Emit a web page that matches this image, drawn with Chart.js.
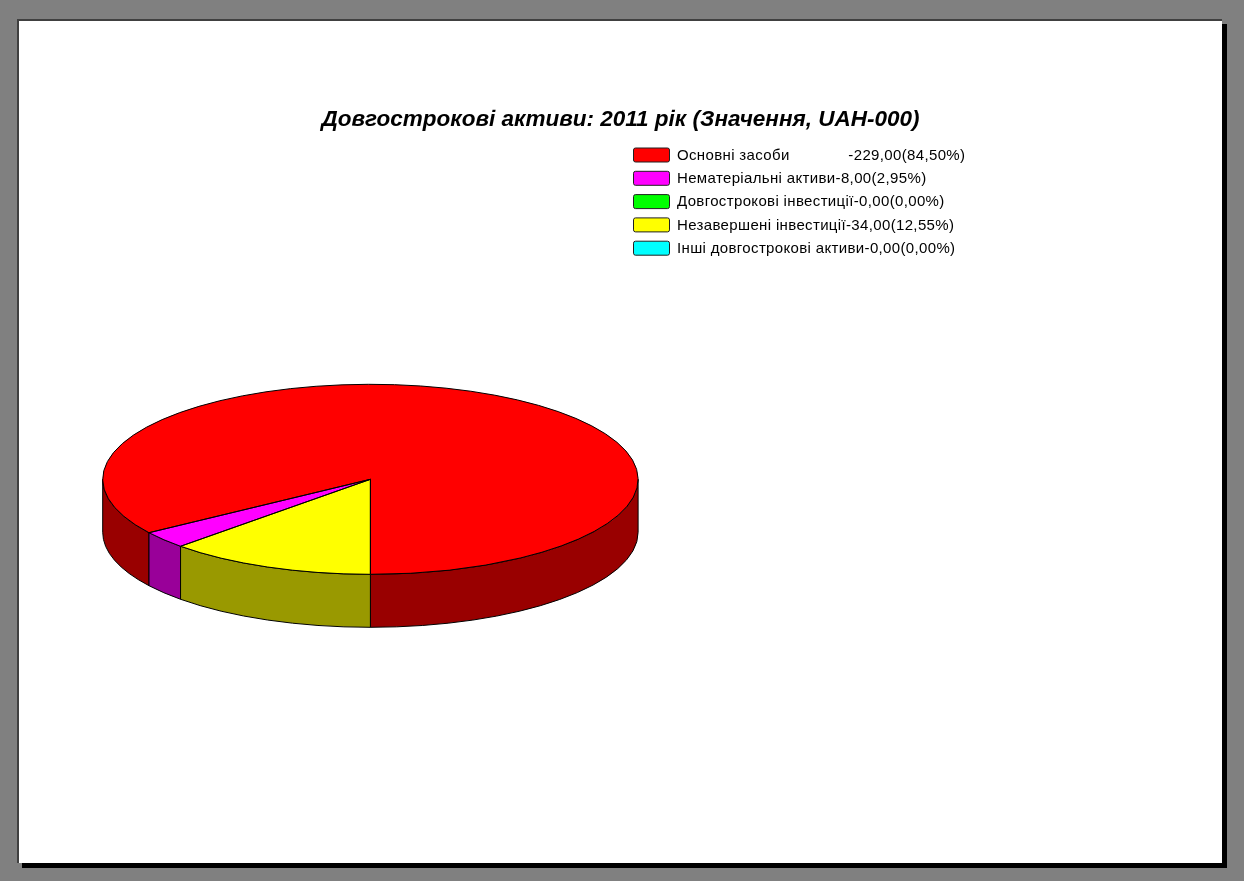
<!DOCTYPE html>
<html>
<head>
<meta charset="utf-8">
<title>Довгострокові активи: 2011 рік</title>
<script src="https://cdn.jsdelivr.net/npm/chart.js@4.4.0/dist/chart.umd.min.js"></script>
<style>
  html, body { margin: 0; padding: 0; width: 1244px; height: 881px; overflow: hidden; background: #808080; }
  #page { position: absolute; left: 17px; top: 19px; width: 1203px; height: 842px; background: #fff;
          border-left: 2px solid #404040; border-top: 2px solid #404040; box-shadow: 5px 5px 0 #000; }
  #chart { position: absolute; left: 0; top: 0; }
</style>
</head>
<body>
<div id="page"></div>
<canvas id="chart" width="1244" height="881"></canvas>
<script>
// Long-term assets, 2011 (UAH thousands)
const categories = [
  'Основні засоби             ',
  'Нематеріальні активи',
  'Довгострокові інвестиції',
  'Незавершені інвестиції',
  'Інші довгострокові активи'
];
const values = [229, 8, 0, 34, 0];
const topColors  = ['#FF0000', '#FF00FF', '#00FF00', '#FFFF00', '#00FFFF'];
const sideColors = ['#990000', '#990099', '#009900', '#999900', '#009999'];
const chartTitle = 'Довгострокові активи: 2011 рік (Значення, UAH-000)';

// Pie geometry on screen: centre, horizontal radius, tilt and thickness
const CX = 370.4, CY = 479.3, RX = 267.7, RY = 95, DEPTH = 53;
const TILT = RY / RX;

const total = values.reduce((a, b) => a + b, 0);
const fmt = v => v.toFixed(2).replace('.', ',');
const legendLabels = categories.map((c, i) =>
  c + '-' + fmt(values[i]) + '(' + fmt(values[i] / total * 100) + '%)');

function arcGeom(arc) {
  const p = arc.getProps(['x', 'y', 'startAngle', 'endAngle', 'outerRadius'], true);
  // the drawing is mirrored horizontally, so slice angles run counter-clockwise on screen
  return { x: p.x, y: p.y, r: p.outerRadius, ry: p.outerRadius * TILT,
           a: Math.PI - p.endAngle, b: Math.PI - p.startAngle };
}

const pie3d = {
  id: 'pie3d',
  beforeDatasetsDraw(chart) {
    const ctx = chart.ctx;
    const meta = chart.getDatasetMeta(0);
    // side walls: only the front half (0..PI) of the rim is visible
    ctx.save();
    ctx.lineWidth = 1;
    ctx.strokeStyle = '#000';
    meta.data.forEach((arc, i) => {
      if (!values[i]) return;
      const g = arcGeom(arc);
      for (let s = -3; s <= 3; s++) {
        const off = 2 * Math.PI * s;
        const lo = Math.max(g.a, off), hi = Math.min(g.b, off + Math.PI);
        if (hi - lo <= 1e-6) continue;
        const l = lo - off, h = hi - off;
        ctx.beginPath();
        ctx.ellipse(g.x, g.y, g.r, g.ry, 0, l, h, false);
        ctx.lineTo(g.x + g.r * Math.cos(h), g.y + DEPTH + g.ry * Math.sin(h));
        ctx.ellipse(g.x, g.y + DEPTH, g.r, g.ry, 0, h, l, true);
        ctx.closePath();
        ctx.fillStyle = sideColors[i];
        ctx.fill();
        ctx.stroke();
      }
    });
    ctx.restore();
    // top face: squash and mirror the library's own pie
    const c = meta.data[0];
    ctx.save();
    ctx.translate(c.x, c.y);
    ctx.scale(-1, TILT);
    ctx.translate(-c.x, -c.y);
  },
  afterDatasetsDraw(chart) {
    const ctx = chart.ctx;
    ctx.restore();
    const meta = chart.getDatasetMeta(0);
    ctx.save();
    ctx.lineWidth = 1;
    ctx.strokeStyle = '#000';
    meta.data.forEach((arc, i) => {
      if (!values[i]) return;
      const g = arcGeom(arc);
      ctx.beginPath();
      ctx.moveTo(g.x, g.y);
      ctx.lineTo(g.x + g.r * Math.cos(g.a), g.y + g.ry * Math.sin(g.a));
      ctx.ellipse(g.x, g.y, g.r, g.ry, 0, g.a, g.b, false);
      ctx.closePath();
      ctx.stroke();
    });
    ctx.restore();
  },
  afterDraw(chart) {
    const ctx = chart.ctx;
    ctx.save();
    ctx.fillStyle = '#000';
    ctx.font = 'italic bold 22.5px "Liberation Sans", Arial, sans-serif';
    ctx.textAlign = 'center';
    ctx.textBaseline = 'alphabetic';
    ctx.fillText(chartTitle, 620.5, 125.5);

    ctx.font = '15px "Liberation Sans", Arial, sans-serif';
    ctx.letterSpacing = '0.35px';
    ctx.textAlign = 'left';
    ctx.textBaseline = 'middle';
    legendLabels.forEach((t, i) => {
      const y = 155 + i * 23.3;
      ctx.beginPath();
      ctx.roundRect(633.5, y - 7, 36, 14, 2);
      ctx.fillStyle = topColors[i];
      ctx.fill();
      ctx.lineWidth = 1;
      ctx.strokeStyle = '#202020';
      ctx.stroke();
      ctx.fillStyle = '#000';
      ctx.fillText(t, 677, y + 0.5);
    });
    ctx.restore();
  }
};

new Chart(document.getElementById('chart'), {
  type: 'pie',
  data: {
    labels: categories,
    datasets: [{
      data: values,
      backgroundColor: topColors,
      borderWidth: 0
    }]
  },
  options: {
    responsive: false,
    animation: false,
    events: [],
    rotation: 180,
    layout: {
      padding: { left: CX - RX, right: 1244 - (CX + RX), top: CY - RX, bottom: 881 - (CY + RX) }
    },
    plugins: {
      legend: { display: false },
      tooltip: { enabled: false },
      title: { display: false }
    }
  },
  plugins: [pie3d]
});
</script>
</body>
</html>
